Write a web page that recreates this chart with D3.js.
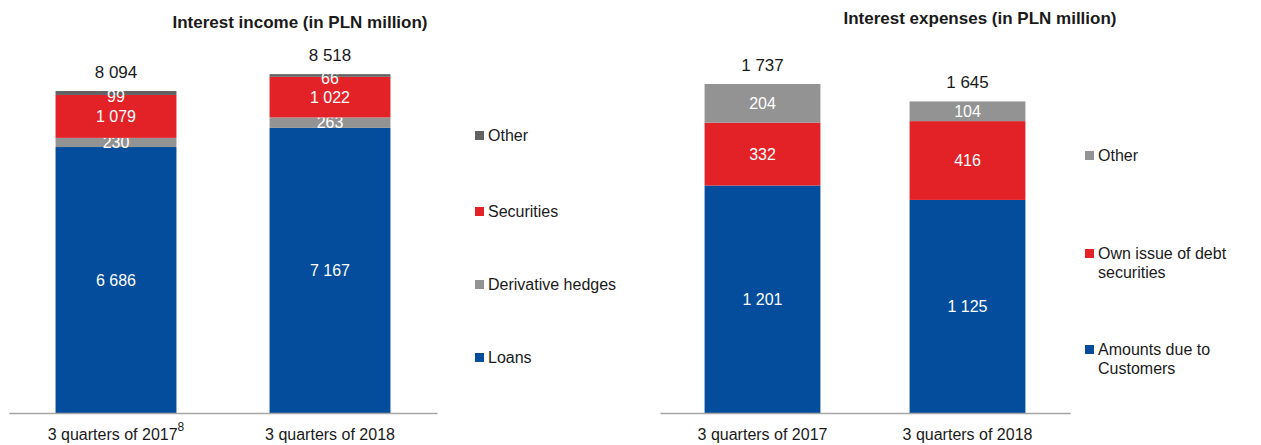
<!DOCTYPE html>
<html>
<head>
<meta charset="utf-8">
<script src="https://cdn.jsdelivr.net/npm/d3@7"></script>
<style>
  html, body { margin: 0; padding: 0; background: #fff; }
  svg { display: block; font-family: "Liberation Sans Narrow", "Liberation Sans", sans-serif; }
</style>
</head>
<body>
<svg id="chart" width="1261" height="445"></svg>
<script>
// Periods on the x axis
const periods = ["3 quarters of 2017", "3 quarters of 2018"];

// Interest income components (PLN million), bottom to top
const incomeSeries = ["Loans", "Derivative hedges", "Securities", "Other"];
const incomeLoans = [6686, 7167];
const incomeHedges = [230, 263];
const incomeSecurities = [1079, 1022];
const incomeOther = [99, 66];
const incomeTotals = [8094, 8518];

// Interest expense components (PLN million), bottom to top
const expenseSeries = ["Amounts due to Customers", "Own issue of debt securities", "Other"];
const expenseCustomers = [1201, 1125];
const expenseDebt = [332, 416];
const expenseOther = [204, 104];
const expenseTotals = [1737, 1645];

const BLUE = "#034d9c", RED = "#e32227", GREY = "#939393", DARK = "#626262";
const svg = d3.select("#chart");
const fmt = v => d3.format(",")(v).replace(/,/g, " ");

function panel(cfg) {
  const g = svg.append("g");
  const x = d3.scaleBand().domain(periods).range(cfg.xRange)
    .paddingInner(0.435).paddingOuter(0.2175);
  const y = d3.scaleLinear().domain(cfg.yDomain).range(cfg.yRange);

  const rows = periods.map((p, i) => {
    const r = { period: p };
    cfg.series.forEach((s, k) => { r[s] = cfg.values[k][i]; });
    return r;
  });
  const stacked = d3.stack().keys(cfg.series)(rows);

  stacked.forEach((layer, k) => {
    g.selectAll(null).data(layer).enter().append("rect")
      .attr("x", d => x(d.data.period))
      .attr("width", x.bandwidth())
      .attr("y", d => y(d[1]))
      .attr("height", d => y(d[0]) - y(d[1]))
      .attr("fill", cfg.colors[k]);
    g.selectAll(null).data(layer).enter().append("text")
      .attr("x", d => x(d.data.period) + x.bandwidth() / 2)
      .attr("y", d => (y(d[0]) + y(d[1])) / 2 + (cfg.labelShift[k] || 0))
      .attr("dy", "0.36em")
      .attr("text-anchor", "middle")
      .attr("fill", "#fff")
      .attr("font-size", 16)
      .text(d => fmt(d[1] - d[0]));
  });

  // totals above bars
  g.selectAll(null).data(cfg.totals).enter().append("text")
    .attr("x", (d, i) => x(periods[i]) + x.bandwidth() / 2)
    .attr("y", d => y(d) - 13)
    .attr("text-anchor", "middle")
    .attr("fill", "#1a1a1a")
    .attr("font-size", 17)
    .text(d => fmt(d));

  // baseline
  const axis = g.append("g").attr("transform", `translate(0,${cfg.yRange[0]})`)
    .call(d3.axisBottom(x).tickSize(0).tickPadding(16));
  axis.select(".domain").attr("stroke", "#a6a6a6").attr("stroke-width", 1.5);
  axis.selectAll(".tick text")
    .attr("font-size", 16)
    .attr("fill", "#1a1a1a")
    .attr("font-family", "Liberation Sans Narrow, sans-serif");
  if (cfg.footnote) {
    axis.selectAll(".tick text").filter((d, i) => i === 0)
      .append("tspan").attr("dy", "-0.75em").attr("font-size", 12).text(cfg.footnote);
  }

  // title
  g.append("text")
    .attr("x", cfg.titlePos[0]).attr("y", cfg.titlePos[1])
    .attr("text-anchor", "middle")
    .attr("font-weight", "bold")
    .attr("font-size", 17)
    .attr("fill", "#1a1a1a")
    .text(cfg.title);

  // legend
  cfg.legend.forEach((item, k) => {
    const lg = g.append("g").attr("transform", `translate(${cfg.legendX},${item.y})`);
    lg.append("rect").attr("x", 0).attr("y", -10).attr("width", 9).attr("height", 9)
      .attr("fill", item.color);
    const t = lg.append("text").attr("x", 13).attr("y", 0)
      .attr("font-size", cfg.legendFontSize).attr("fill", "#1a1a1a")
      .attr("font-family", cfg.legendFont);
    item.lines.forEach((ln, j) => {
      t.append("tspan").attr("x", 13).attr("dy", j === 0 ? 0 : "1.2em").text(ln);
    });
  });
}

panel({
  title: "Interest income (in PLN million)",
  titlePos: [300, 28],
  series: incomeSeries,
  values: [incomeLoans, incomeHedges, incomeSecurities, incomeOther],
  totals: incomeTotals,
  colors: [BLUE, GREY, RED, DARK],
  labelShift: [0, 0, 0, 3],
  xRange: [9, 437],
  yDomain: [0, 10000],
  yRange: [413, 15.2],
  footnote: "8",
  legendX: 475,
  legendFontSize: 16,
  legendFont: "Liberation Sans Narrow, sans-serif",
  legend: [
    { lines: ["Other"], color: DARK, y: 141 },
    { lines: ["Securities"], color: RED, y: 217 },
    { lines: ["Derivative hedges"], color: GREY, y: 290 },
    { lines: ["Loans"], color: BLUE, y: 363 }
  ]
});

panel({
  title: "Interest expenses (in PLN million)",
  titlePos: [980, 24],
  series: expenseSeries,
  values: [expenseCustomers, expenseDebt, expenseOther],
  totals: expenseTotals,
  colors: [BLUE, RED, GREY],
  labelShift: [0, 0, 0],
  xRange: [660, 1070],
  yDomain: [0, 2000],
  yRange: [413, 34.2],
  footnote: null,
  legendX: 1085,
  legendFontSize: 16,
  legendFont: "Liberation Sans, sans-serif",
  legend: [
    { lines: ["Other"], color: GREY, y: 161 },
    { lines: ["Own issue of debt", "securities"], color: RED, y: 259 },
    { lines: ["Amounts due to", "Customers"], color: BLUE, y: 355 }
  ]
});
</script>
</body>
</html>
